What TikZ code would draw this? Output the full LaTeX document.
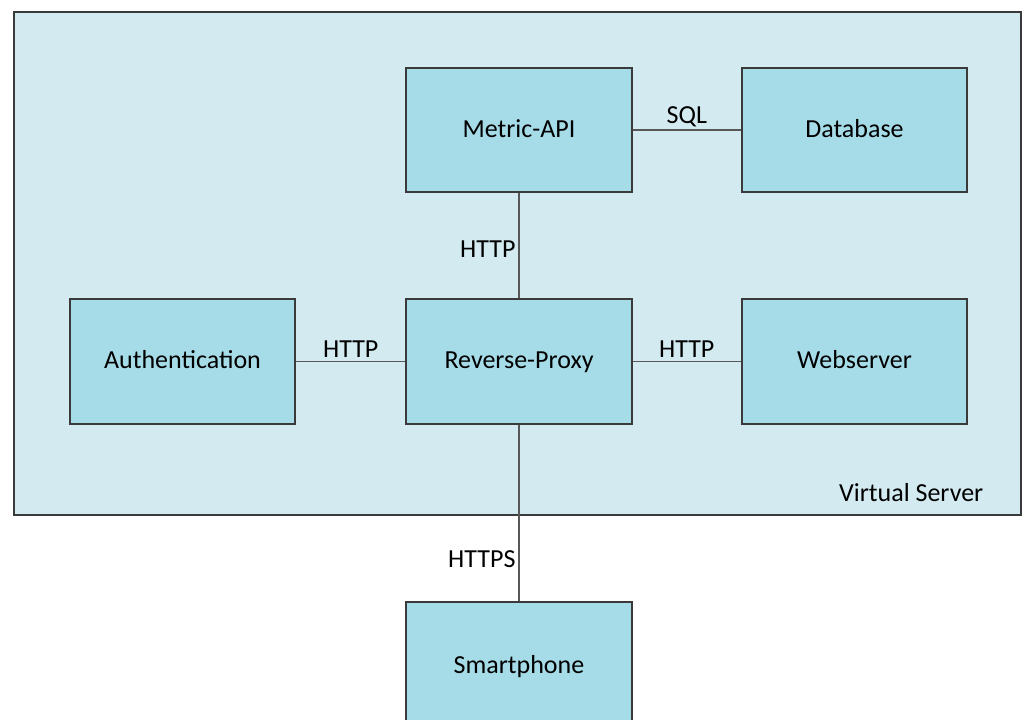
\documentclass[tikz,border=0pt]{standalone}
\usepackage{fontspec}
\setmainfont{Carlito}
\usetikzlibrary{positioning}
\definecolor{serverbg}{HTML}{D3EAF0}
\definecolor{boxfill}{HTML}{A6DCE8}
\definecolor{edge}{HTML}{3A3A3A}
\begin{document}
\begin{tikzpicture}[x=0.75pt, y=-0.75pt, font=\fontsize{19.5}{23}\selectfont,
  label text/.style={text height=1.1em, text depth=0em},
  service/.style={draw=edge, line width=1.3pt, fill=boxfill, minimum width=169pt, minimum height=93.5pt,
    inner sep=0pt, label text},
  link/.style={draw=edge!85, line width=1.3pt},
  proto/.style={inner sep=2pt}]
  \clip (0,0) rectangle (1024,720);
  \fill[white] (0,0) rectangle (1024,720);
  % virtual server frame
  \draw[edge, line width=1.6pt, fill=serverbg] (14,12) rectangle (1021,515);
  \node[anchor=base east] (vs) at (988,501) {Virtual Server};
  % services
  \node[service] (api) at (519,130) {Metric-API};
  \node[service] (db) at (854.5,130) {Database};
  \node[service] (auth) at (182.5,361.5) {Authentication};
  \node[service] (proxy) at (519,361.5) {Reverse-Proxy};
  \node[service] (web) at (854.5,361.5) {Webserver};
  \node[service, minimum height=140pt, anchor=north] (phone) at (519,601) {};
  \node[label text] at (519,666) {Smartphone};
  % connections
  \draw[link] (api) -- node[proto, above] {SQL} (db);
  \draw[link] (api) -- node[proto, left, pos=0.53] {HTTP} (proxy);
  \draw[link] (auth) -- node[proto, above] {HTTP} (proxy);
  \draw[link] (proxy) -- node[proto, above] {HTTP} (web);
  \draw[link] (proxy) -- node[proto, left, pos=0.76] {HTTPS} (phone);
\end{tikzpicture}
\end{document}
